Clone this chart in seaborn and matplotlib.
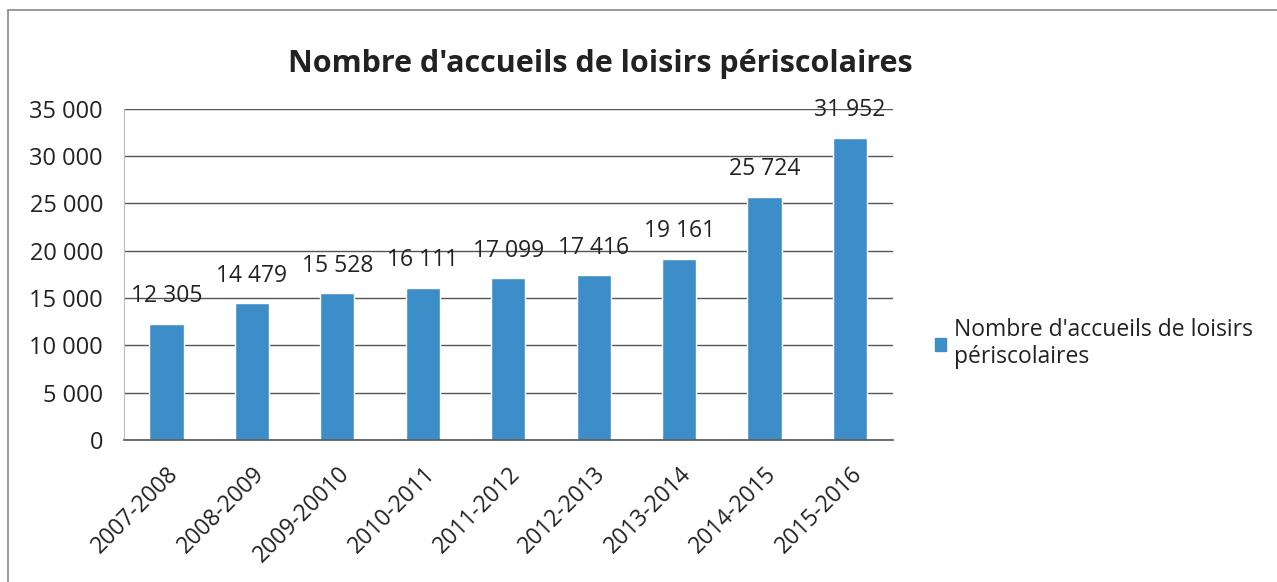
import matplotlib
matplotlib.use("Agg")
import matplotlib.pyplot as plt
import matplotlib.patches as mpatches
from matplotlib.lines import Line2D
from matplotlib.ticker import FuncFormatter, MultipleLocator
import seaborn as sns
import pandas as pd
import numpy as np

years = ["2007-2008", "2008-2009", "2009-20010", "2010-2011", "2011-2012",
         "2012-2013", "2013-2014", "2014-2015", "2015-2016"]
accueils = [12305, 14479, 15528, 16111, 17099, 17416, 19161, 25724, 31952]
serie = "Nombre d'accueils de loisirs périscolaires"

df = pd.DataFrame({"annee": years, "nb": accueils})

sns.set_style("white")
plt.rcParams["font.family"] = ["Open Sans", "DejaVu Sans"]

bar_color = "#3d8ec8"
txt = "#222222"

fig = plt.figure(figsize=(12.77, 5.82), dpi=100)
ax = fig.add_axes([0.097, 0.244, 0.602, 0.569])

sns.barplot(data=df, x="annee", y="nb", color=bar_color, width=0.4,
            saturation=1, ax=ax)

ax.set_ylim(0, 35000)
ax.set_xlim(-0.5, len(years) - 0.5)
ax.yaxis.set_major_locator(MultipleLocator(5000))
fmt = FuncFormatter(lambda v, p: f"{int(v):,}".replace(",", " "))
ax.yaxis.set_major_formatter(fmt)
ax.grid(axis="y", color="#555555", linewidth=1)
ax.set_axisbelow(True)

for s in ["top", "right"]:
    ax.spines[s].set_visible(False)
ax.spines["left"].set_color("#bbbbbb")
ax.spines["bottom"].set_color("#555555")
ax.spines["bottom"].set_linewidth(1.2)

ax.tick_params(axis="y", length=7, width=1, color="#555555", pad=8,
               labelsize=17, labelcolor=txt)
ax.tick_params(axis="x", which="major", length=0, pad=16, labelsize=16.5,
               labelcolor=txt)
ax.set_xticks(np.arange(-0.5, len(years), 1.0), minor=True)
ax.tick_params(axis="x", which="minor", length=6, width=1, color="#888888")
ax.set_xticklabels(years, rotation=45, ha="right", rotation_mode="anchor")
ax.set_xlabel("")
ax.set_ylabel("")

for c in ax.containers:
    ax.bar_label(c, labels=[f"{v:,}".replace(",", " ") for v in accueils],
                 padding=11, fontsize=16.5, color=txt)

fig.text(0.47, 0.89, serie, ha="center", va="center", fontsize=22,
         fontweight="bold", color=txt)

handle = mpatches.Patch(color=bar_color)
fig.legend([handle], ["Nombre d'accueils de loisirs\npériscolaires"],
           loc="center left", bbox_to_anchor=(0.716, 0.41), frameon=False,
           fontsize=16.5, handlelength=0.5, handleheight=0.5,
           handletextpad=0.35, labelspacing=0.6, labelcolor=txt)

# chart frame (only left and top edges visible in the scan)
fig.add_artist(Line2D([0.006, 0.006], [0.0, 0.983], color="#888888", lw=1.2))
fig.add_artist(Line2D([0.006, 1.0], [0.983, 0.983], color="#888888", lw=1.2))

fig.savefig("out.png", dpi=100, facecolor="white")
